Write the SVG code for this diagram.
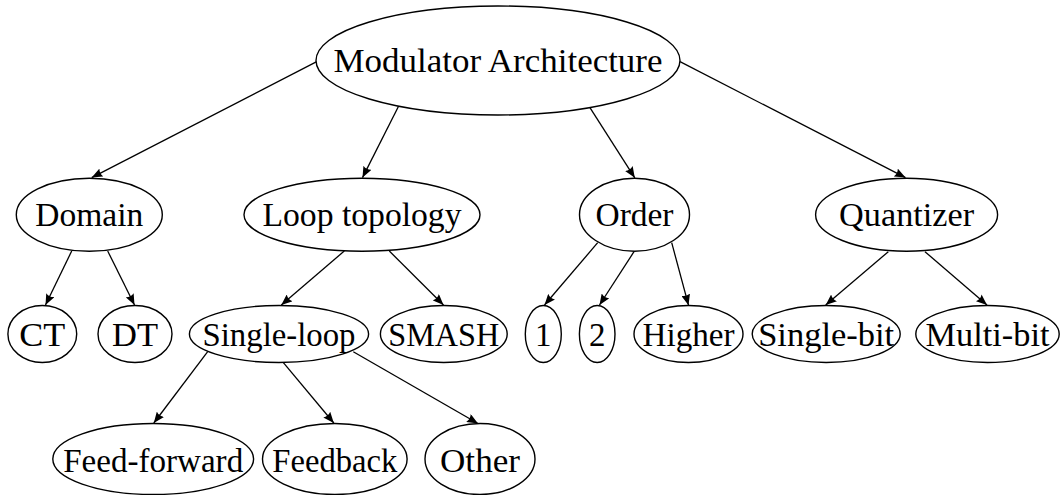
<svg xmlns="http://www.w3.org/2000/svg" width="1062" height="495" viewBox="0 0 1062 495">
  <style>
    .node ellipse { fill: #ffffff; stroke: #000000; stroke-width: 1.4; }
    .node text { font-family: "Liberation Serif", "Times New Roman", serif; font-size: 33px; fill: #000000; text-anchor: middle; }
    .edges line { stroke: #000000; stroke-width: 1.3; marker-end: url(#arrow); }
  </style>
  <defs>
    <marker id="arrow" viewBox="0 0 11 9" refX="11" refY="4.5" markerWidth="11" markerHeight="9" markerUnits="userSpaceOnUse" orient="auto">
      <path d="M0,0 L11,4.5 L0,9 Q2.5,4.5 0,0 z" fill="#000000"/>
    </marker>
  </defs>
  <rect width="1062" height="495" fill="#ffffff"/>

  <!-- connectors -->
  <g class="edges" id="edges">
    <line x1="316.7" y1="61.7" x2="91.7" y2="177.6"/>
    <line x1="398.3" y1="106.7" x2="362.5" y2="177.6"/>
    <line x1="589.3" y1="106.7" x2="634.8" y2="177.8"/>
    <line x1="680" y1="61.7" x2="905.5" y2="177.6"/>
    <line x1="71.7" y1="251" x2="45.5" y2="305"/>
    <line x1="107.7" y1="251" x2="134.5" y2="305"/>
    <line x1="344.3" y1="251" x2="281.3" y2="305"/>
    <line x1="389.3" y1="251" x2="443.5" y2="305"/>
    <line x1="597.7" y1="242.7" x2="544.5" y2="305"/>
    <line x1="634" y1="251.7" x2="599.5" y2="305"/>
    <line x1="671.7" y1="242.7" x2="688.5" y2="305.2"/>
    <line x1="888.3" y1="251.7" x2="825.7" y2="305"/>
    <line x1="925" y1="251.7" x2="987" y2="305"/>
    <line x1="207.7" y1="351.7" x2="153.8" y2="423"/>
    <line x1="281.7" y1="360.7" x2="333.8" y2="423"/>
    <line x1="353.3" y1="351.7" x2="478" y2="423.5"/>
  </g>

  <!-- level 1 -->
  <g class="node" id="n-modulator">
    <ellipse cx="498" cy="60.5" rx="182" ry="54.5"/>
    <text x="498" y="72" textLength="329" lengthAdjust="spacingAndGlyphs">Modulator Architecture</text>
  </g>

  <!-- level 2 -->
  <g class="node" id="n-domain">
    <ellipse cx="89.3" cy="214.7" rx="73" ry="36.5"/>
    <text x="89.3" y="226" textLength="108" lengthAdjust="spacingAndGlyphs">Domain</text>
  </g>
  <g class="node" id="n-loop-topology">
    <ellipse cx="362" cy="214.7" rx="118" ry="36.5"/>
    <text x="362" y="226" textLength="199" lengthAdjust="spacingAndGlyphs">Loop topology</text>
  </g>
  <g class="node" id="n-order">
    <ellipse cx="634.5" cy="214.7" rx="55" ry="36.5"/>
    <text x="634.5" y="226" textLength="78" lengthAdjust="spacingAndGlyphs">Order</text>
  </g>
  <g class="node" id="n-quantizer">
    <ellipse cx="906.6" cy="214.7" rx="91" ry="36.5"/>
    <text x="906.6" y="226" textLength="135" lengthAdjust="spacingAndGlyphs">Quantizer</text>
  </g>

  <!-- level 3 -->
  <g class="node" id="n-ct">
    <ellipse cx="42.3" cy="334" rx="34.4" ry="28.5"/>
    <text x="42.3" y="345.5" textLength="46" lengthAdjust="spacingAndGlyphs">CT</text>
  </g>
  <g class="node" id="n-dt">
    <ellipse cx="135" cy="334" rx="37" ry="28.5"/>
    <text x="135" y="345.5" textLength="46" lengthAdjust="spacingAndGlyphs">DT</text>
  </g>
  <g class="node" id="n-single-loop">
    <ellipse cx="279" cy="334" rx="89.6" ry="28.5"/>
    <text x="279" y="345.5" textLength="153" lengthAdjust="spacingAndGlyphs">Single-loop</text>
  </g>
  <g class="node" id="n-smash">
    <ellipse cx="443.8" cy="334" rx="63.4" ry="28.5"/>
    <text x="443.8" y="345.5" textLength="111" lengthAdjust="spacingAndGlyphs">SMASH</text>
  </g>
  <g class="node" id="n-order-1">
    <ellipse cx="543.3" cy="334" rx="18" ry="28.5"/>
    <text x="543.3" y="345.5">1</text>
  </g>
  <g class="node" id="n-order-2">
    <ellipse cx="597.2" cy="334" rx="17.8" ry="28.5"/>
    <text x="597.2" y="345.5">2</text>
  </g>
  <g class="node" id="n-higher">
    <ellipse cx="688.5" cy="334" rx="54.5" ry="28.5"/>
    <text x="688.5" y="345.5" textLength="92" lengthAdjust="spacingAndGlyphs">Higher</text>
  </g>
  <g class="node" id="n-single-bit">
    <ellipse cx="826.2" cy="334" rx="74" ry="28.5"/>
    <text x="826.2" y="345.5" textLength="136" lengthAdjust="spacingAndGlyphs">Single-bit</text>
  </g>
  <g class="node" id="n-multi-bit">
    <ellipse cx="987.5" cy="334" rx="71.7" ry="28.5"/>
    <text x="987.5" y="345.5" textLength="124" lengthAdjust="spacingAndGlyphs">Multi-bit</text>
  </g>

  <!-- level 4 -->
  <g class="node" id="n-feed-forward">
    <ellipse cx="153.2" cy="459" rx="100.4" ry="35.5"/>
    <text x="153.2" y="471.5" textLength="180" lengthAdjust="spacingAndGlyphs">Feed-forward</text>
  </g>
  <g class="node" id="n-feedback">
    <ellipse cx="334.8" cy="459" rx="72.3" ry="35.5"/>
    <text x="334.8" y="471.5" textLength="125" lengthAdjust="spacingAndGlyphs">Feedback</text>
  </g>
  <g class="node" id="n-other">
    <ellipse cx="480" cy="459" rx="55" ry="35.5"/>
    <text x="480" y="471.5" textLength="80" lengthAdjust="spacingAndGlyphs">Other</text>
  </g>
</svg>
